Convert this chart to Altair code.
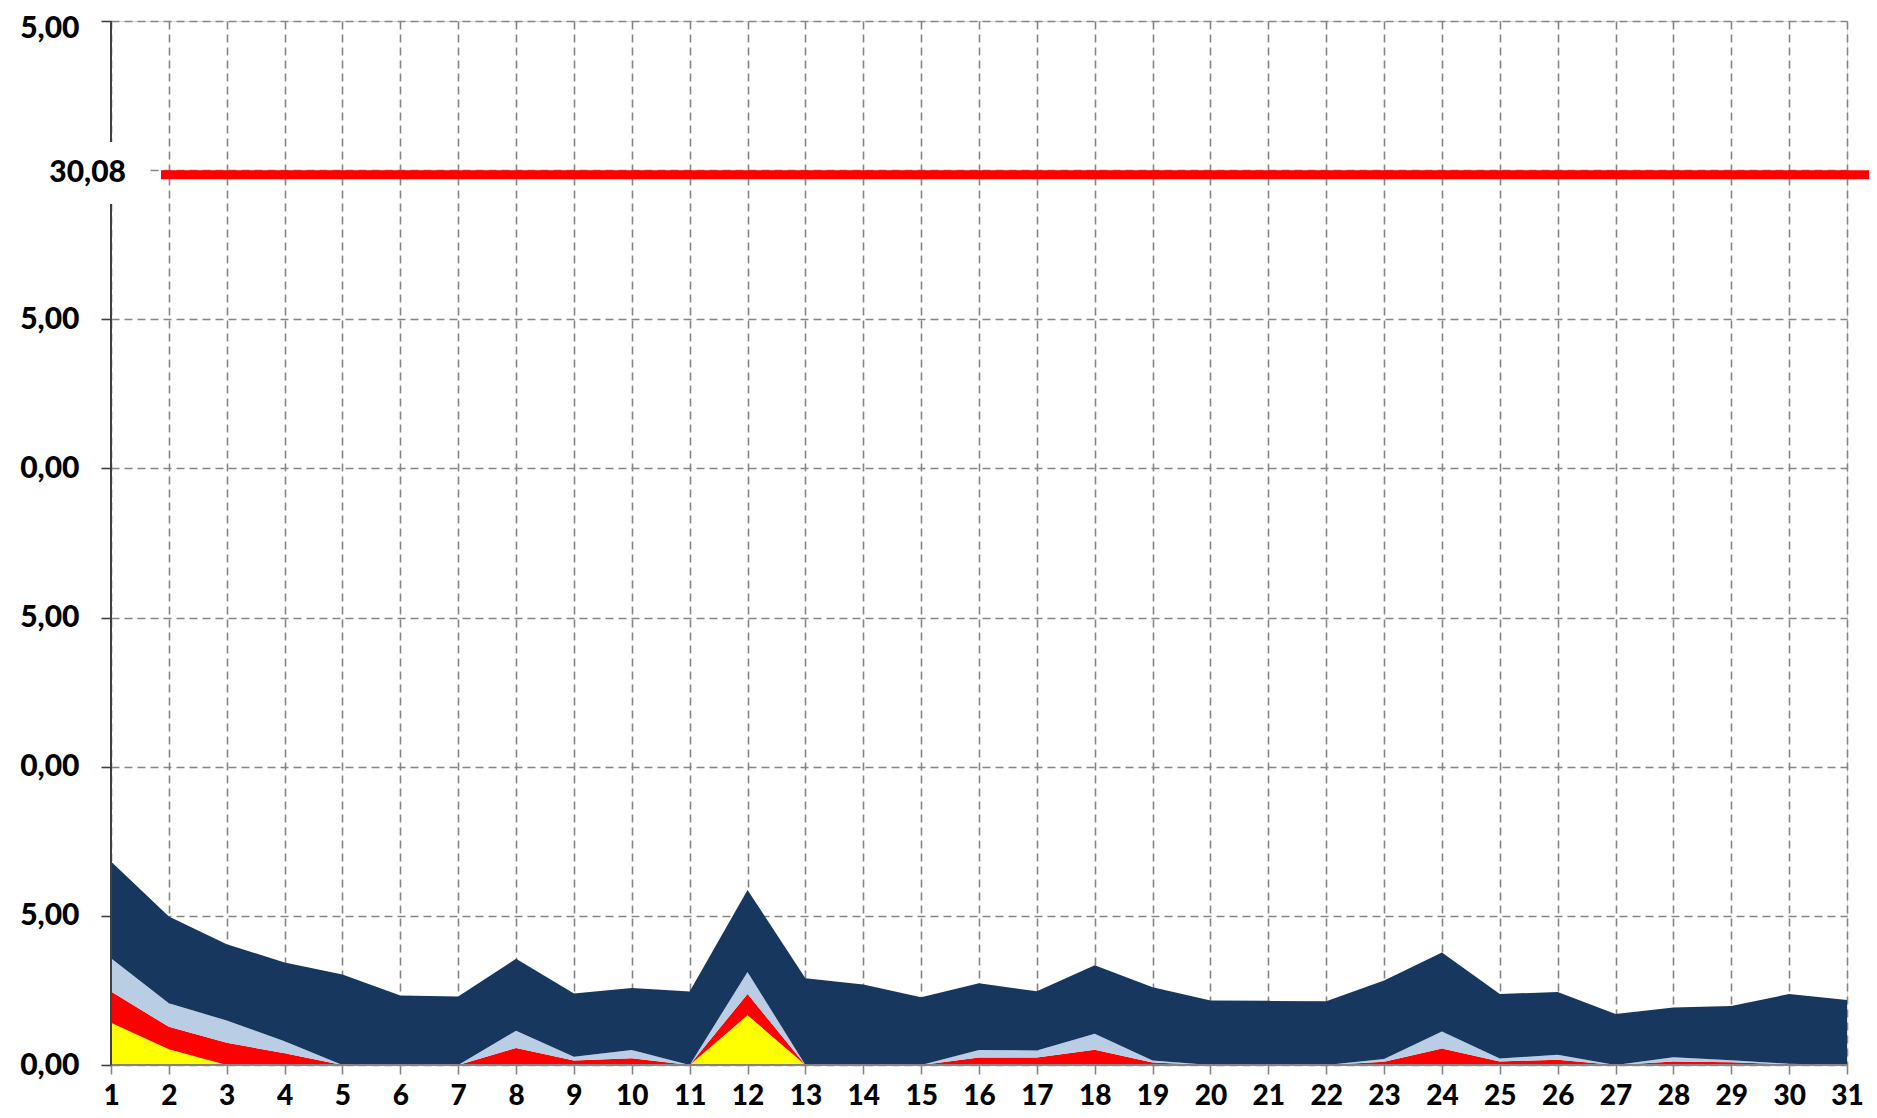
import altair as alt
import pandas as pd

days = list(range(1, 32))

series_names = ["Serie 1", "Serie 2", "Serie 3", "Serie 4"]
series_colors = ["#FFFF00", "#FF0000", "#B9CDE5", "#17375E"]

serie1 = [1.42, 0.53, 0, 0, 0, 0, 0, 0, 0, 0, 0, 1.67, 0, 0, 0, 0,
          0, 0, 0, 0, 0, 0, 0, 0, 0, 0, 0, 0, 0, 0, 0]
serie2 = [1.04, 0.75, 0.75, 0.39, 0, 0, 0, 0.57, 0.15, 0.23, 0, 0.71, 0, 0, 0, 0.25,
          0.25, 0.51, 0.08, 0, 0, 0, 0.11, 0.55, 0.12, 0.18, 0, 0.12, 0.09, 0.02, 0]
serie3 = [1.12, 0.79, 0.74, 0.41, 0, 0, 0, 0.58, 0.13, 0.27, 0, 0.74, 0, 0, 0, 0.25,
          0.24, 0.54, 0.07, 0, 0, 0, 0.09, 0.57, 0.10, 0.16, 0, 0.14, 0.07, 0.02, 0]
serie4 = [3.24, 2.91, 2.56, 2.64, 3.03, 2.33, 2.30, 2.41, 2.12, 2.08, 2.46, 2.75, 2.91, 2.70, 2.27, 2.24,
          1.98, 2.29, 2.46, 2.16, 2.15, 2.14, 2.63, 2.65, 2.16, 2.11, 1.71, 1.67, 1.82, 2.34, 2.18]

limit_value = 30.08
limit_label = "30,08"
y_ticks = [0, 5, 10, 15, 20, 25, 30, 35]

rows = []
for k, (name, vals) in enumerate(zip(series_names, [serie1, serie2, serie3, serie4])):
    for d, v in zip(days, vals):
        rows.append({"day": d, "value": v, "series": name, "k": k})
df = pd.DataFrame(rows)

FONT = "Lato"
GRID = "#858585"

x_scale = alt.Scale(domain=[1, 31], nice=False, zero=False)
y_scale = alt.Scale(domain=[0, 35], nice=False)

areas = alt.Chart(df).mark_area(interpolate="linear", strokeWidth=0).encode(
    x=alt.X("day:Q", scale=x_scale,
            axis=alt.Axis(values=days, format="d", title=None, grid=True,
                          gridDash=[8, 5], gridColor=GRID, gridWidth=1.6,
                          domain=False, tickSize=9, tickColor=GRID, tickWidth=1.6,
                          labelFont=FONT, labelFontSize=28, labelFontWeight=900,
                          labelColor="black", labelBaseline="alphabetic",
                          labelPadding=30, labelFlush=False)),
    y=alt.Y("value:Q", stack="zero", scale=y_scale,
            axis=alt.Axis(values=y_ticks, title=None, grid=True,
                          gridDash=[8, 5], gridColor=GRID, gridWidth=1.6,
                          domain=False, tickSize=10, tickColor="#404040", tickWidth=1.6,
                          labelExpr="datum.value == 30 ? '' : slice(replace(format(datum.value, '.2f'), '.', ','), -4)",
                          labelOffset={"condition": {"test": "datum.value == 35", "value": 7}, "value": 0},
                          labelFont=FONT, labelFontSize=30, labelFontWeight=900,
                          labelColor="black", labelPadding=22, labelFlush=False)),
    color=alt.Color("series:N", scale=alt.Scale(domain=series_names, range=series_colors), legend=None),
    order=alt.Order("k:Q"),
)

base_line = alt.Chart(pd.DataFrame({"v": [0]})).mark_rule(color=GRID, strokeWidth=2).encode(
    y=alt.Y("v:Q", scale=y_scale), x=alt.datum(1), x2=alt.datum(31))
y_line = alt.Chart(pd.DataFrame({"d": [1]})).mark_rule(color="#404040", strokeWidth=2).encode(
    x=alt.X("d:Q", scale=x_scale), y=alt.datum(0), y2=alt.datum(35))

limit_df = pd.DataFrame({"v": [limit_value], "label": [limit_label]})
limit_rule = alt.Chart(limit_df).mark_rule(color="#FF0000", strokeWidth=9, clip=False, yOffset=7).encode(
    y=alt.Y("v:Q", scale=y_scale), x=alt.value(50), x2=alt.value(1766))
box = alt.Chart(limit_df).mark_rect(color="white", clip=False).encode(
    x=alt.value(-103), x2=alt.value(36), y=alt.value(121), y2=alt.value(183))
limit_text = alt.Chart(limit_df).mark_text(font=FONT, fontSize=30, fontWeight=900,
                                           color="black", align="right", baseline="middle",
                                           clip=False, dy=5).encode(
    x=alt.value(15), y=alt.Y("v:Q", scale=y_scale), text="label:N")

chart = alt.layer(areas, base_line, y_line, limit_rule, box, limit_text).properties(
    width=1736, height=1044,
    autosize=alt.AutoSizeParams(type="none"),
    padding={"left": 103, "top": 13, "right": 22, "bottom": 45},
).configure_view(fill="#FDEADA", stroke=None).configure(background="white")

chart.save("out.html", embed_options={"renderer": "svg", "actions": False})
